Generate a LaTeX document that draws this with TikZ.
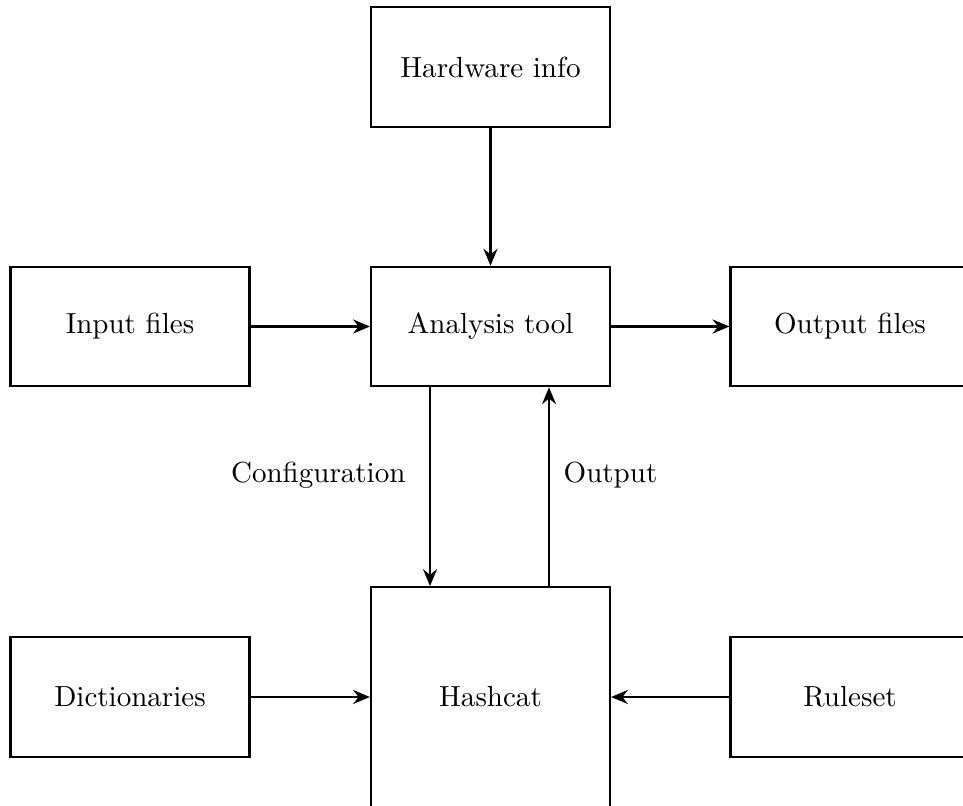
\documentclass[tikz,border=0pt]{standalone}
\usetikzlibrary{arrows.meta}
\begin{document}
\begin{tikzpicture}[x=0.012461cm,y=-0.012461cm,
  box/.style={draw,line width=0.75pt,minimum width=2.98cm,minimum height=1.49cm,inner sep=0pt,font=\fontsize{10.3}{12}\selectfont},
  arr/.style={line width=0.75pt,-{Stealth[length=6pt,width=5pt,inset=2pt]}},
  lbl/.style={font=\fontsize{10.3}{12}\selectfont}]
\useasboundingbox (0,0) rectangle (963,805);
\begin{scope}
\clip (0,0) rectangle (963,805);
\node[box] (hw) at (490.5,67) {Hardware info};
\node[box] (an) at (490.5,326.5) {Analysis tool};
\node[box] (in) at (130,326.5) {Input files};
\node[box] (out) at (850,326.5) {Output files};
\node[box,minimum height=2.74cm] (hc) at (490.5,697) {Hashcat};
\node[box] (di) at (130,697) {Dictionaries};
\node[box] (rs) at (850,697) {Ruleset};
\draw[arr] (hw) -- (an);
\draw[arr] (in) -- (an);
\draw[arr] (an) -- (out);
\draw[arr] (di) -- (hc);
\draw[arr] (rs) -- (hc);
\coordinate (c1) at (430,0);
\coordinate (c2) at (549,0);
\draw[arr] (an.south -| c1) -- node[lbl,left,pos=0.443,xshift=-5pt] {Configuration} (hc.north -| c1);
\draw[arr] (hc.north -| c2) -- node[lbl,right,pos=0.557,xshift=1.5pt] {Output} (an.south -| c2);
\end{scope}
\end{tikzpicture}
\end{document}
